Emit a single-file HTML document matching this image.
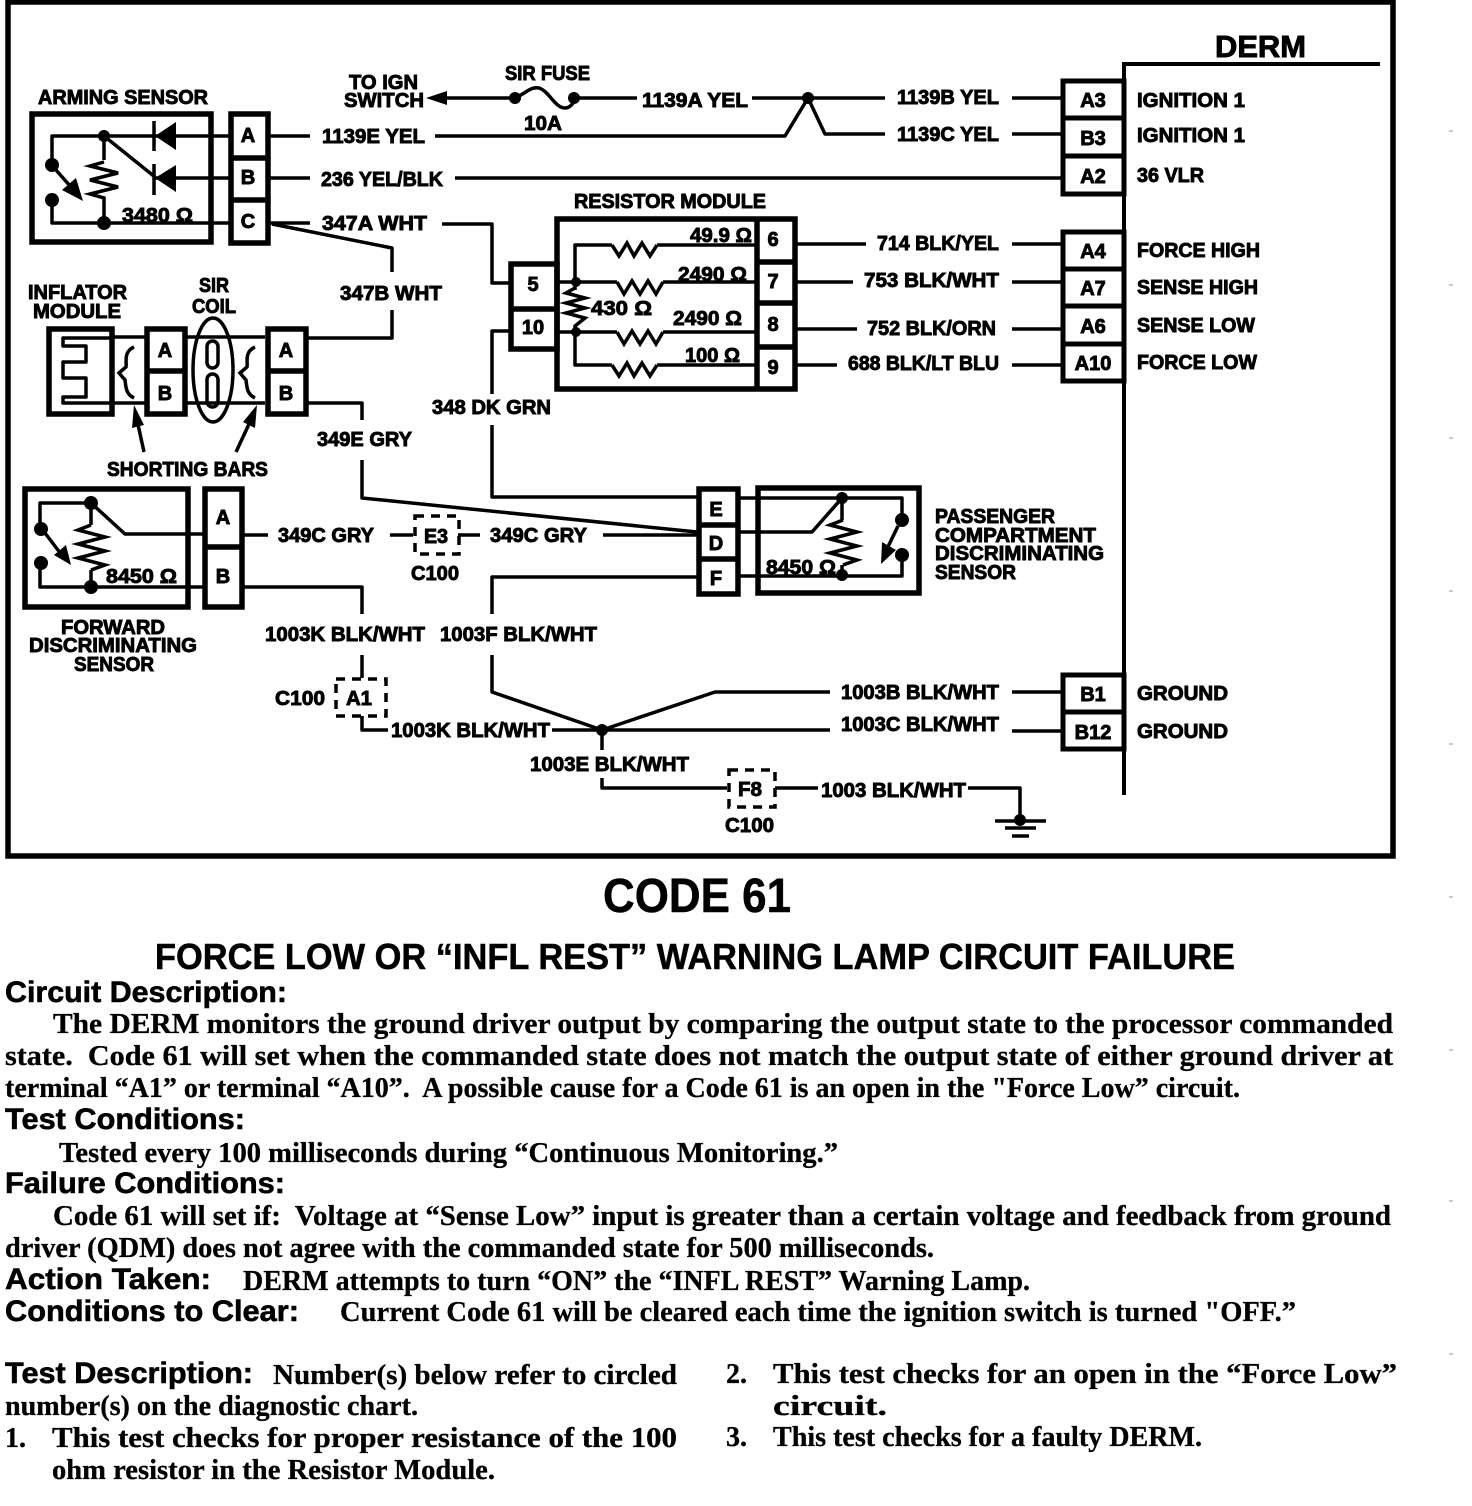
<!DOCTYPE html>
<html><head><meta charset="utf-8"><style>
html,body{margin:0;padding:0;background:#fff}
svg{display:block}
.l{fill:none;stroke:#000;stroke-width:3.5;stroke-linejoin:round}
.b{fill:none;stroke:#000;stroke-width:5.5}
.d{fill:none;stroke:#000;stroke-width:3.5;stroke-dasharray:9 7}
.r{fill:none;stroke:#000;stroke-width:3.5}
text{font-family:"Liberation Sans",sans-serif;font-weight:bold;font-size:20px;fill:#000;stroke:#000;stroke-width:.9;white-space:pre}
.s{font-family:"Liberation Serif",serif;font-size:28px;stroke-width:.3}
.h{font-size:30px;stroke-width:.6}
</style></head><body>
<svg width="1472" height="1506" viewBox="0 0 1472 1506" xmlns="http://www.w3.org/2000/svg">
<rect width="1472" height="1506" fill="#fff"/>
<rect x="8" y="2" width="1385" height="854" class="b" stroke-width="5"/>
<g stroke="#999" stroke-width="1"><path d="M1449 131h4M1449 285h4M1449 438h4M1449 591h4M1449 744h4M1449 897h4M1449 1050h4M1449 1201h4M1449 1354h4"/></g>

<!-- DERM -->
<path class="b" style="stroke-width:4" d="M1380 64H1124V795"/>
<g class="b" style="stroke-width:5">
<rect x="1063" y="81" width="61" height="37"/><rect x="1063" y="118" width="61" height="38"/><rect x="1063" y="156" width="61" height="38"/>
<rect x="1063" y="232" width="61" height="37"/><rect x="1063" y="269" width="61" height="37"/><rect x="1063" y="306" width="61" height="38"/><rect x="1063" y="344" width="61" height="37"/>
<rect x="1063" y="675" width="61" height="37"/><rect x="1063" y="712" width="61" height="37"/>
</g>

<!-- top wires -->
<g class="l">
<path d="M440 98H515M515 98C525 94 531 86 539 88C549 91 555 108 565 108C571 108 575 101 575 98M575 98H637"/>
<path d="M752 98H885M1012 98H1062"/>
<path d="M435 136H785L808 98L825 134H885M1012 134H1062"/>
<path d="M270 136H310M270 178H310M455 178H1062M270 223H310"/>
<path d="M442 224H492V283H510M272 224L392 248V272M392 310V338H308"/>
<path d="M797 244H866M1012 244H1062M797 282H853M1012 282H1062M797 329H857M1012 329H1062M797 365H837M1012 365H1062"/>
<path d="M510 331H492V394M492 425V497H697"/>
<path d="M308 403H362V420M362 460V498L697 532"/>
<path d="M268 535H243M390 535H413M458 535H480M603 535H697"/>
<path d="M243 587H362V614M362 655V678M362 716V730H388"/>
<path d="M697 577H492V614M492 655V692L602 730L715 692H830M552 730H830M602 730V750M602 778V788H727M775 788H818M968 788H1020V818"/>
<path d="M1012 692H1062M1012 731H1062"/>
<path d="M995 821H1046M1005 828H1036M1012 836H1029"/>
</g>
<path d="M426 98L447 91V105Z"/>
<g><circle cx="515" cy="98" r="6"/><circle cx="574" cy="98" r="6"/><circle cx="808" cy="98" r="6"/><circle cx="602" cy="730" r="6"/><circle cx="1020" cy="820" r="6"/></g>

<!-- Arming sensor -->
<rect x="32" y="114" width="179" height="128" class="b"/>
<rect x="231" y="114" width="37" height="129" class="b"/>
<path class="b" d="M231 158H268M231 200H268"/>
<path class="l" d="M229 136H52V165M52 200V223H229M104 136V160M104 205V223M104 136L155 177M155 178H229"/>
<path class="r" d="M104 162L90 166L118 173L90 180L118 187L90 194L104 198V205"/>
<path d="M176 122V150L155 136ZM176 165V192L155 178Z"/><path class="l" d="M154 121V151M154 164V195"/>
<circle cx="52" cy="165" r="7"/><circle cx="52" cy="200" r="7"/><circle cx="104" cy="136" r="6"/><circle cx="104" cy="223" r="7"/>
<path class="l" d="M56 170L78 195"/><path d="M83 201L62 190L76 178Z"/>

<!-- Inflator / coil -->
<rect x="49" y="329" width="63" height="85" class="b"/>
<rect x="147" y="329" width="38" height="85" class="b"/>
<rect x="268" y="329" width="38" height="85" class="b"/>
<path class="b" d="M147 371H185M268 371H306"/>
<path class="l" d="M112 337H145M185 337H265M112 403H145M185 403H265M306 337H308M306 403H308"/>
<path class="l" d="M110 338H63V346H86V362H63V378H86V397H63V403H110"/>
<path class="r" d="M134 347C123 352 127 362 126 367L119 373L125 380C126 388 126 394 134 398"/>
<path class="r" d="M255 347C244 352 248 362 247 367L240 373L246 380C247 388 247 394 255 398"/>
<ellipse cx="213" cy="370" rx="20" ry="52" class="l"/>
<rect x="207" y="341" width="11" height="27" rx="5.5" class="l"/><rect x="207" y="374" width="11" height="33" rx="5.5" class="l"/>
<path class="l" d="M144 452L137 420M236 452L250 422"/><path d="M134 405L144 425L132 428ZM257 405L255 428L243 422Z"/>

<!-- Resistor module -->
<rect x="557" y="219" width="238" height="170" class="b"/>
<path class="b" d="M757 219V389M757 262H795M757 303H795M757 347H795"/>
<rect x="511" y="264" width="46" height="85" class="b"/><path class="b" d="M511 309H557"/>
<path class="l" d="M557 282H617M663 282H757M557 332H617M663 332H757M612 245H575V365H612M657 245H757M657 365H757"/>
<path class="r" d="M612 245L619 256L627 243L634 256L642 243L650 256L657 245"/>
<path class="r" d="M617 282L624 294L632 281L640 294L648 281L656 294L663 282"/>
<path class="r" d="M617 332L624 344L632 331L640 344L648 331L656 344L663 332"/>
<path class="r" d="M612 365L619 376L627 363L634 376L642 363L650 376L657 365"/>
<path class="b" style="stroke-width:6;stroke:#fff" d="M575 290V325"/>
<path class="r" d="M575 288L566 293L585 298L566 303L585 308L566 313L585 318L575 326"/>
<circle cx="576" cy="282" r="5"/><circle cx="576" cy="332" r="5"/>

<!-- Forward sensor -->
<rect x="25" y="489" width="163" height="118" class="b"/>
<rect x="205" y="489" width="37" height="118" class="b"/>
<path class="b" d="M205 547H242"/>
<path class="l" d="M40 529V503H91L125 534H205M40 563V587H205M91 503V525M91 570V587"/>
<path class="r" d="M91 525L78 530L105 537L78 544L105 551L78 558L105 565L91 570"/>
<circle cx="41" cy="529" r="7"/><circle cx="41" cy="563" r="7"/><circle cx="91" cy="503" r="7"/><circle cx="91" cy="587" r="7"/>
<path class="l" d="M45 533L64 558"/><path d="M71 565L54 555L66 545Z"/>

<!-- Passenger sensor -->
<rect x="699" y="489" width="39" height="105" class="b"/>
<rect x="758" y="488" width="161" height="105" class="b"/>
<path class="b" d="M699 525H738M699 559H738"/>
<path class="l" d="M740 498H902V520M902 555V576H740M740 532H812L842 498M842 498V520M842 565V576"/>
<path class="r" d="M843 520L830 525L857 532L830 539L857 546L830 553L857 560L843 565"/>
<circle cx="842" cy="498" r="6"/><circle cx="842" cy="575" r="6"/><circle cx="902" cy="520" r="7"/><circle cx="902" cy="555" r="7"/>
<path class="l" d="M898 526L885 553"/><path d="M881 564L882 542L896 550Z"/>

<!-- dashed connectors -->
<rect x="415" y="516" width="44" height="38" class="d"/>
<rect x="336" y="679" width="50" height="37" class="d"/>
<rect x="729" y="770" width="46" height="37" class="d"/>

<!-- diagram labels -->
<g>
<text lengthAdjust="spacingAndGlyphs" x="1215" y="57" textLength="91" style="font-size:31px">DERM</text>
<text lengthAdjust="spacingAndGlyphs" x="38" y="104" textLength="170">ARMING SENSOR</text>
<text lengthAdjust="spacingAndGlyphs" x="349" y="89" textLength="69">TO IGN</text><text lengthAdjust="spacingAndGlyphs" x="344" y="107" textLength="80">SWITCH</text>
<text lengthAdjust="spacingAndGlyphs" x="505" y="80" textLength="85">SIR FUSE</text><text lengthAdjust="spacingAndGlyphs" x="524" y="130" textLength="38">10A</text>
<text lengthAdjust="spacingAndGlyphs" x="642" y="107" textLength="106">1139A YEL</text><text lengthAdjust="spacingAndGlyphs" x="897" y="104" textLength="102">1139B YEL</text><text lengthAdjust="spacingAndGlyphs" x="897" y="141" textLength="102">1139C YEL</text>
<text lengthAdjust="spacingAndGlyphs" x="322" y="143" textLength="103">1139E YEL</text><text lengthAdjust="spacingAndGlyphs" x="321" y="186" textLength="122">236 YEL/BLK</text><text lengthAdjust="spacingAndGlyphs" x="322" y="230" textLength="105">347A WHT</text>
<text lengthAdjust="spacingAndGlyphs" x="574" y="208" textLength="192">RESISTOR MODULE</text><text lengthAdjust="spacingAndGlyphs" x="340" y="300" textLength="102">347B WHT</text>
<text lengthAdjust="spacingAndGlyphs" x="28" y="299" textLength="99">INFLATOR</text><text lengthAdjust="spacingAndGlyphs" x="33" y="318" textLength="88">MODULE</text>
<text lengthAdjust="spacingAndGlyphs" x="199" y="292" textLength="30">SIR</text><text lengthAdjust="spacingAndGlyphs" x="192" y="313" textLength="44">COIL</text>
<text lengthAdjust="spacingAndGlyphs" x="877" y="250" textLength="122">714 BLK/YEL</text><text lengthAdjust="spacingAndGlyphs" x="864" y="287" textLength="135">753 BLK/WHT</text><text lengthAdjust="spacingAndGlyphs" x="867" y="335" textLength="129">752 BLK/ORN</text><text lengthAdjust="spacingAndGlyphs" x="848" y="370" textLength="151">688 BLK/LT BLU</text>
<text lengthAdjust="spacingAndGlyphs" x="432" y="414" textLength="119">348 DK GRN</text><text lengthAdjust="spacingAndGlyphs" x="317" y="446" textLength="95">349E GRY</text><text lengthAdjust="spacingAndGlyphs" x="107" y="476" textLength="161">SHORTING BARS</text>
<text lengthAdjust="spacingAndGlyphs" x="278" y="542" textLength="96">349C GRY</text><text lengthAdjust="spacingAndGlyphs" x="490" y="542" textLength="97">349C GRY</text><text lengthAdjust="spacingAndGlyphs" x="424" y="543" textLength="24">E3</text><text lengthAdjust="spacingAndGlyphs" x="411" y="580" textLength="48">C100</text>
<text lengthAdjust="spacingAndGlyphs" x="935" y="523" textLength="120">PASSENGER</text><text lengthAdjust="spacingAndGlyphs" x="935" y="542" textLength="161">COMPARTMENT</text><text lengthAdjust="spacingAndGlyphs" x="935" y="560" textLength="169">DISCRIMINATING</text><text lengthAdjust="spacingAndGlyphs" x="935" y="579" textLength="81">SENSOR</text>
<text lengthAdjust="spacingAndGlyphs" x="61" y="634" textLength="104">FORWARD</text><text lengthAdjust="spacingAndGlyphs" x="29" y="652" textLength="168">DISCRIMINATING</text><text lengthAdjust="spacingAndGlyphs" x="74" y="671" textLength="80">SENSOR</text>
<text lengthAdjust="spacingAndGlyphs" x="265" y="641" textLength="160">1003K BLK/WHT</text><text lengthAdjust="spacingAndGlyphs" x="440" y="641" textLength="157">1003F BLK/WHT</text>
<text lengthAdjust="spacingAndGlyphs" x="275" y="705" textLength="50">C100</text><text lengthAdjust="spacingAndGlyphs" x="346" y="705" textLength="26">A1</text><text lengthAdjust="spacingAndGlyphs" x="391" y="737" textLength="159">1003K BLK/WHT</text>
<text lengthAdjust="spacingAndGlyphs" x="841" y="699" textLength="158">1003B BLK/WHT</text><text lengthAdjust="spacingAndGlyphs" x="841" y="731" textLength="158">1003C BLK/WHT</text><text lengthAdjust="spacingAndGlyphs" x="530" y="771" textLength="159">1003E BLK/WHT</text>
<text lengthAdjust="spacingAndGlyphs" x="738" y="796" textLength="24">F8</text><text lengthAdjust="spacingAndGlyphs" x="725" y="832" textLength="49">C100</text><text lengthAdjust="spacingAndGlyphs" x="821" y="797" textLength="145">1003 BLK/WHT</text>
<text lengthAdjust="spacingAndGlyphs" x="1137" y="107" textLength="108">IGNITION 1</text><text lengthAdjust="spacingAndGlyphs" x="1137" y="142" textLength="108">IGNITION 1</text><text lengthAdjust="spacingAndGlyphs" x="1137" y="182" textLength="67">36 VLR</text>
<text lengthAdjust="spacingAndGlyphs" x="1137" y="257" textLength="123">FORCE HIGH</text><text lengthAdjust="spacingAndGlyphs" x="1137" y="294" textLength="121">SENSE HIGH</text><text lengthAdjust="spacingAndGlyphs" x="1137" y="332" textLength="118">SENSE LOW</text><text lengthAdjust="spacingAndGlyphs" x="1137" y="369" textLength="120">FORCE LOW</text>
<text lengthAdjust="spacingAndGlyphs" x="1137" y="700" textLength="91">GROUND</text><text lengthAdjust="spacingAndGlyphs" x="1137" y="738" textLength="91">GROUND</text>
<text lengthAdjust="spacingAndGlyphs" x="122" y="222" textLength="71">3480 Ω</text><text lengthAdjust="spacingAndGlyphs" x="690" y="242" textLength="62">49.9 Ω</text><text lengthAdjust="spacingAndGlyphs" x="678" y="281" textLength="69">2490 Ω</text><text lengthAdjust="spacingAndGlyphs" x="591" y="315" textLength="61">430 Ω</text><text lengthAdjust="spacingAndGlyphs" x="673" y="325" textLength="69">2490 Ω</text><text lengthAdjust="spacingAndGlyphs" x="685" y="362" textLength="55">100 Ω</text>
<text lengthAdjust="spacingAndGlyphs" x="106" y="583" textLength="71">8450 Ω</text><text lengthAdjust="spacingAndGlyphs" x="766" y="574" textLength="70">8450 Ω</text>
</g>
<g text-anchor="middle">
<text x="1093" y="107">A3</text><text x="1093" y="145">B3</text><text x="1093" y="183">A2</text><text x="1093" y="258">A4</text><text x="1093" y="295">A7</text><text x="1093" y="333">A6</text><text x="1093" y="370">A10</text><text x="1093" y="701">B1</text><text x="1093" y="739">B12</text>
<text x="248" y="142">A</text><text x="248" y="184">B</text><text x="248" y="228">C</text>
<text x="165" y="357">A</text><text x="165" y="400">B</text><text x="286" y="357">A</text><text x="286" y="400">B</text>
<text x="773" y="246">6</text><text x="773" y="288">7</text><text x="773" y="331">8</text><text x="773" y="374">9</text><text x="533" y="291">5</text><text x="533" y="334">10</text>
<text x="223" y="524">A</text><text x="223" y="583">B</text>
<text x="716" y="516">E</text><text x="716" y="550">D</text><text x="716" y="585">F</text>
</g>

<!-- Document text -->
<text lengthAdjust="spacingAndGlyphs" x="603" y="912" textLength="188" style="font-size:48px;stroke-width:.5">CODE 61</text>
<text lengthAdjust="spacingAndGlyphs" x="155" y="969" textLength="1080" style="font-size:36px;stroke-width:.5">FORCE LOW OR “INFL REST” WARNING LAMP CIRCUIT FAILURE</text>
<text lengthAdjust="spacingAndGlyphs" class="h" x="5" y="1002" textLength="282">Circuit Description:</text>
<text lengthAdjust="spacingAndGlyphs" class="s" x="53" y="1033" textLength="1340">The DERM monitors the ground driver output by comparing the output state to the processor commanded</text>
<text lengthAdjust="spacingAndGlyphs" class="s" x="5" y="1065" textLength="1388">state.  Code 61 will set when the commanded state does not match the output state of either ground driver at</text>
<text lengthAdjust="spacingAndGlyphs" class="s" x="5" y="1097" textLength="1235">terminal “A1” or terminal “A10”.  A possible cause for a Code 61 is an open in the "Force Low” circuit.</text>
<text lengthAdjust="spacingAndGlyphs" class="h" x="5" y="1129" textLength="240">Test Conditions:</text>
<text lengthAdjust="spacingAndGlyphs" class="s" x="59" y="1162" textLength="779">Tested every 100 milliseconds during “Continuous Monitoring.”</text>
<text lengthAdjust="spacingAndGlyphs" class="h" x="5" y="1193" textLength="280">Failure Conditions:</text>
<text lengthAdjust="spacingAndGlyphs" class="s" x="53" y="1225" textLength="1338">Code 61 will set if:  Voltage at “Sense Low” input is greater than a certain voltage and feedback from ground</text>
<text lengthAdjust="spacingAndGlyphs" class="s" x="5" y="1257" textLength="929">driver (QDM) does not agree with the commanded state for 500 milliseconds.</text>
<text lengthAdjust="spacingAndGlyphs" class="h" x="5" y="1289" textLength="206">Action Taken:</text>
<text lengthAdjust="spacingAndGlyphs" class="s" x="243" y="1290" textLength="787">DERM attempts to turn “ON” the “INFL REST” Warning Lamp.</text>
<text lengthAdjust="spacingAndGlyphs" class="h" x="5" y="1321" textLength="294">Conditions to Clear:</text>
<text lengthAdjust="spacingAndGlyphs" class="s" x="340" y="1321" textLength="956">Current Code 61 will be cleared each time the ignition switch is turned "OFF.”</text>
<text lengthAdjust="spacingAndGlyphs" class="h" x="5" y="1383" textLength="248">Test Description:</text>
<text lengthAdjust="spacingAndGlyphs" class="s" x="273" y="1384" textLength="404">Number(s) below refer to circled</text>
<text lengthAdjust="spacingAndGlyphs" class="s" x="5" y="1415" textLength="413">number(s) on the diagnostic chart.</text>
<text class="s" x="5" y="1447">1.</text>
<text lengthAdjust="spacingAndGlyphs" class="s" x="52" y="1447" textLength="625">This test checks for proper resistance of the 100</text>
<text lengthAdjust="spacingAndGlyphs" class="s" x="52" y="1479" textLength="443">ohm resistor in the Resistor Module.</text>
<text class="s" x="726" y="1383">2.</text>
<text lengthAdjust="spacingAndGlyphs" class="s" x="773" y="1383" textLength="624">This test checks for an open in the “Force Low”</text>
<text lengthAdjust="spacingAndGlyphs" class="s" x="773" y="1415" textLength="114">circuit.</text>
<text class="s" x="726" y="1446">3.</text>
<text lengthAdjust="spacingAndGlyphs" class="s" x="773" y="1446" textLength="429">This test checks for a faulty DERM.</text>
</svg>
</body></html>
